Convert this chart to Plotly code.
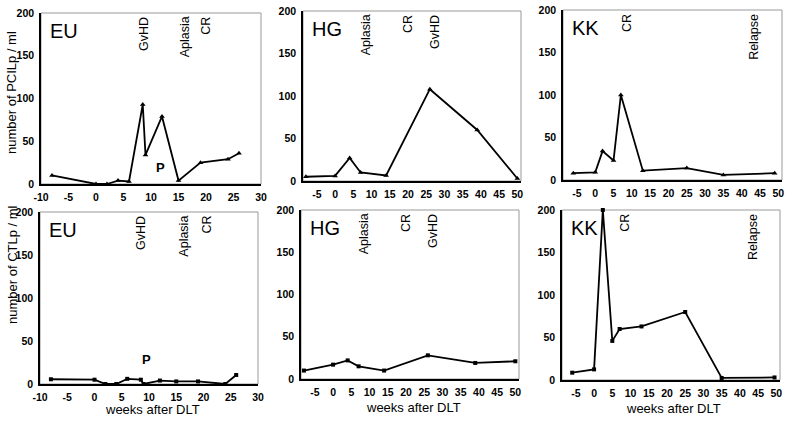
import plotly.graph_objects as go

W, H = 789, 421

# ---- data ----
eu_x = [-8, 0, 2, 4, 6, 8.5, 9, 12, 15, 19, 24, 26]
eu_pcil = [10, 0, 0, 4, 3, 93, 34, 79, 4, 25, 29, 36]
eu_ctl = [5.5, 5, 0, 0, 6, 5, 0, 4, 3, 3, 0, 10.5]

hg_x = [-8, 0, 4, 7, 14, 26, 39, 50]
hg_pcil = [5, 6, 27, 10, 6.5, 108, 60, 3]
hg_ctl = [10, 17, 22, 15, 10, 28, 19, 21]

kk_x = [-6, 0, 2, 5, 7, 13, 25, 35, 49]
kk_pcil = [8, 9, 34, 23, 100, 11, 14, 6, 8]
kk_ctl_x = [-6, 0, 2.4, 5, 7, 13, 25, 35, 49.5]
kk_ctl = [8.6, 12.5, 200, 46, 60, 63, 80, 2.4, 3]

eu_events = ["GvHD", "Aplasia", "CR"]
eu_event_x_top = [8.6, 16.2, 20.0]
eu_event_x_bot = [8.4, 16.5, 20.6]
hg_events = ["Aplasia", "CR", "GvHD"]
hg_event_x = [8.5, 19.8, 27.2]
kk_events = ["CR", "Relapse"]
kk_event_x = [8.5, 43.4]

eu_ticks = [-10, -5, 0, 5, 10, 15, 20, 25, 30]
wide_ticks = [-5, 0, 5, 10, 15, 20, 25, 30, 35, 40, 45, 50]
y_ticks = [0, 50, 100, 150, 200]

# panel pixel boxes: (left, right, top, bottom)
boxes = [
    (41, 261, 13, 184), (303, 521, 11, 181), (563, 782, 10, 180),
    (40, 258, 212, 384), (301, 519, 210, 379), (562, 780, 210, 380),
]

panels = [
    ("EU", eu_x, eu_pcil, "triangle-up", [-10, 30], eu_ticks, eu_events, eu_event_x_top),
    ("HG", hg_x, hg_pcil, "triangle-up", [-8.8, 51], wide_ticks, hg_events, hg_event_x),
    ("KK", kk_x, kk_pcil, "triangle-up", [-8.8, 51], wide_ticks, kk_events, kk_event_x),
    ("EU", eu_x, eu_ctl, "square", [-10, 30], eu_ticks, eu_events, eu_event_x_bot),
    ("HG", hg_x, hg_ctl, "square", [-8.8, 51], wide_ticks, hg_events, hg_event_x),
    ("KK", kk_ctl_x, kk_ctl, "square", [-8.8, 51], wide_ticks, kk_events, kk_event_x),
]

fig = go.Figure()
layout = dict(width=W, height=H, margin=dict(l=0, r=0, t=0, b=0, autoexpand=False),
              paper_bgcolor="white", plot_bgcolor="white", showlegend=False)
annotations = []
shapes = []
tickfont = dict(family="Liberation Sans, Arial", size=10.5, color="black", weight="bold")

for i, (name, xs, ys, sym, xr, xt, evs, evx) in enumerate(panels):
    n = i + 1
    xa = "x" if n == 1 else f"x{n}"
    ya = "y" if n == 1 else f"y{n}"
    l, r, t, b = boxes[i]
    layout["xaxis" if n == 1 else f"xaxis{n}"] = dict(
        domain=[l / W, r / W], range=xr, tickvals=xt, ticktext=[str(v) for v in xt],
        ticks="", showgrid=False,
        zeroline=False, showline=True, linecolor="black", linewidth=1.5,
        tickfont=tickfont, anchor=ya, ticklabelstandoff=3, automargin=False)
    layout["yaxis" if n == 1 else f"yaxis{n}"] = dict(
        domain=[1 - b / H, 1 - t / H], range=[0, 200], tickvals=y_ticks, ticks="",
        showgrid=False, zeroline=False, showline=True, linecolor="black", linewidth=1.5,
        tickfont=tickfont, anchor=xa, ticklabelstandoff=3, automargin=False)
    fig.add_trace(go.Scatter(x=xs, y=ys, mode="lines+markers", xaxis=xa, yaxis=ya,
                             line=dict(color="black", width=1.8),
                             marker=dict(symbol=sym, size=5 if sym == "triangle-up" else 4,
                                         color="black"),
                             cliponaxis=False))
    shapes.append(dict(type="rect", xref=f"{xa} domain", yref=f"{ya} domain",
                       x0=0, x1=1, y0=0, y1=1, line=dict(color="#999999", width=1),
                       layer="below"))
    annotations.append(dict(text=name, xref=f"{xa} domain", yref=f"{ya} domain",
                            x=0.03, y=0.97, xanchor="left", yanchor="top", showarrow=False,
                            font=dict(family="Liberation Sans, Arial", size=20, color="black")))
    for ev, ex in zip(evs, evx):
        annotations.append(dict(text=ev, xref=xa, yref=f"{ya} domain", x=ex, y=0.99,
                                xanchor="center", yanchor="top", textangle=-90,
                                showarrow=False,
                                font=dict(family="Liberation Sans, Arial", size=12.5,
                                          color="black")))

# P markers in EU panels
annotations.append(dict(text="P", xref="x", yref="y", x=10.5, y=30, xanchor="left",
                        yanchor="top", showarrow=False,
                        font=dict(family="Liberation Sans, Arial", size=13, color="black",
                                  weight="bold")))
annotations.append(dict(text="P", xref="x4", yref="y4", x=9.6, y=17, xanchor="center",
                        yanchor="bottom", showarrow=False,
                        font=dict(family="Liberation Sans, Arial", size=13, color="black",
                                  weight="bold")))

# axis titles
ttl_font = dict(family="Liberation Sans, Arial", size=13, color="black")
annotations.append(dict(text="number of PCILp / ml", xref="paper", yref="paper",
                        x=12 / W, y=1 - 93 / H, textangle=-90, showarrow=False,
                        xanchor="center", yanchor="middle", font=ttl_font))
annotations.append(dict(text="number of CTLp / ml", xref="paper", yref="paper",
                        x=12 / W, y=1 - 265 / H, textangle=-90, showarrow=False,
                        xanchor="center", yanchor="middle", font=ttl_font))
for cx, cy in [(152, 409), (413, 407), (673, 408)]:
    annotations.append(dict(text="weeks after DLT", xref="paper", yref="paper",
                            x=cx / W, y=1 - cy / H, showarrow=False,
                            xanchor="center", yanchor="middle", font=ttl_font))

layout["annotations"] = annotations
layout["shapes"] = shapes
fig.update_layout(**layout)
fig.write_html("out.html", config={"displayModeBar": False},
               post_script="document.body.style.margin='0';"
                           "document.body.style.overflow='hidden';")
